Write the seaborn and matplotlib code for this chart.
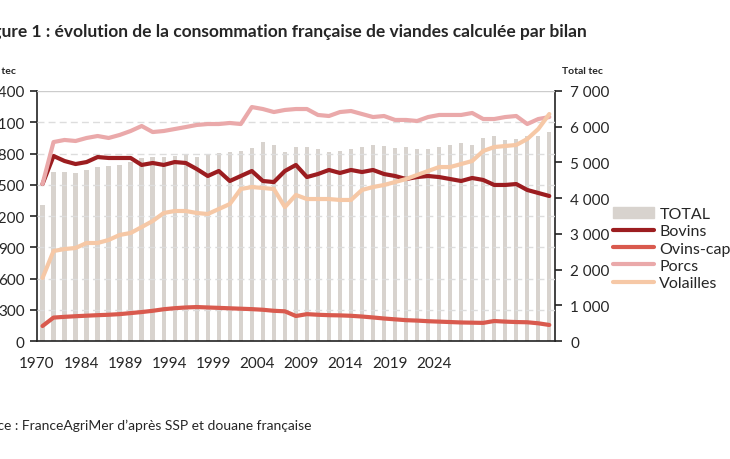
import numpy as np
import pandas as pd
import matplotlib
matplotlib.use("Agg")
import matplotlib.pyplot as plt
import seaborn as sns
from matplotlib.patches import Patch
from matplotlib.lines import Line2D

# Years shown on the chart: 1970, then 1980-2025
years = [1970] + list(range(1980, 2026))
tick_labels = ["1970", "1984", "1989", "1994", "1999", "2004", "2009",
               "2014", "2019", "2024"]
tick_labels = ["1970", "1984", "1989", "1994", "1999", "2004", "2009",
               "2014", "2019", "2024"]

total = [3810, 4730, 4730, 4700, 4800, 4860, 4900, 4930, 5010, 5120,
         5150, 5150, 5180, 5210, 5150, 5240, 5260, 5290, 5320, 5400,
         5570, 5490, 5290, 5430, 5430, 5380, 5290, 5320, 5380, 5430,
         5490, 5460, 5400, 5430, 5380, 5380, 5430, 5490, 5540, 5490,
         5680, 5740, 5640, 5660, 5740, 5740, 5850]
bovins = [1507, 1776, 1728, 1699, 1718, 1766, 1757, 1757, 1757, 1690,
          1709, 1690, 1718, 1709, 1651, 1584, 1632, 1536, 1584, 1632,
          1536, 1526, 1632, 1690, 1574, 1603, 1642, 1613, 1642, 1622,
          1642, 1603, 1584, 1555, 1574, 1584, 1574, 1555, 1536, 1565,
          1546, 1498, 1498, 1507, 1450, 1421, 1392]
ovins = [144, 225, 232, 238, 243, 248, 252, 258, 268, 278,
         290, 305, 315, 322, 326, 322, 318, 314, 310, 306,
         300, 290, 285, 240, 258, 252, 248, 246, 242, 235,
         226, 216, 208, 200, 196, 190, 186, 182, 178, 176,
         174, 192, 186, 182, 180, 170, 154]
porcs = [1507, 1910, 1930, 1920, 1949, 1968, 1949, 1978, 2016, 2064,
         2006, 2016, 2035, 2054, 2074, 2083, 2083, 2093, 2083, 2246,
         2227, 2198, 2218, 2227, 2227, 2170, 2160, 2198, 2208, 2179,
         2150, 2160, 2122, 2122, 2112, 2150, 2170, 2170, 2170, 2189,
         2131, 2131, 2150, 2160, 2083, 2131, 2150]
volailles = [605, 864, 883, 893, 941, 941, 970, 1018, 1037, 1094,
             1152, 1229, 1248, 1248, 1229, 1219, 1267, 1315, 1459, 1478,
             1469, 1459, 1286, 1402, 1363, 1363, 1363, 1354, 1354, 1450,
             1478, 1498, 1526, 1555, 1594, 1632, 1670, 1670, 1699, 1728,
             1824, 1862, 1872, 1882, 1939, 2035, 2179]

series = {"Bovins": (bovins, "#9c1d20"),
          "Ovins-caprins": (ovins, "#d95a4e"),
          "Porcs": (porcs, "#eaa9aa"),
          "Volailles": (volailles, "#f6c8a6")}

sns.set_style("white")
plt.rcParams["font.family"] = ["Lato", "DejaVu Sans"]

fig = plt.figure(figsize=(7.3, 4.6), dpi=100)
ax = fig.add_axes([0.0507, 0.2565, 0.7093, 0.5435])
ax2 = ax.twinx()

idx = np.arange(len(years))
df_tot = pd.DataFrame({"k": idx, "total": total})
sns.barplot(data=df_tot, x="k", y="total", ax=ax2, color="#d8d3ce",
            width=0.4, saturation=1, linewidth=0)

for name, (vals, col) in series.items():
    sns.lineplot(x=idx, y=vals, ax=ax, color=col, linewidth=3, label=name)

ax.set_zorder(ax2.get_zorder() + 1)
ax.patch.set_visible(False)

ax.set_xlim(-0.5, len(years) - 0.5)
ax2.set_xlim(-0.5, len(years) - 0.5)
ax.set_ylim(0, 2400)
ax2.set_ylim(0, 7000)
ax.set_yticks(np.arange(0, 2401, 300))
ax.set_yticklabels([f"{v:,}".replace(",", " ") for v in range(0, 2401, 300)])
ax2.set_yticks(np.arange(0, 7001, 1000))
ax2.set_yticklabels([f"{v:,}".replace(",", " ") for v in range(0, 7001, 1000)])
ax.set_xticks(np.arange(0, 4 * len(tick_labels), 4) - 0.5)
ax.set_xticklabels(tick_labels)
ax2.set_xlabel("")
ax2.set_ylabel("")

for v in range(300, 2400, 300):
    ax.axhline(v, color="#dddddd", linestyle=(0, (5, 3)), linewidth=1, zorder=0)
ax.axhline(2400, color="#cccccc", linewidth=1)

for a in (ax, ax2):
    a.tick_params(axis="both", labelsize=11, color="#222222", length=5,
                  width=1.2, direction="out")
    for s in ("top",):
        a.spines[s].set_visible(False)
ax.spines["right"].set_visible(False)
ax2.spines["left"].set_color("#222222")
ax2.spines["right"].set_color("#222222")
ax2.spines["bottom"].set_color("#222222")
ax2.spines["left"].set_linewidth(1.2)
ax2.spines["right"].set_linewidth(1.2)
ax2.spines["bottom"].set_linewidth(1.2)
ax.spines["left"].set_visible(False)
ax.spines["bottom"].set_visible(False)
ax.tick_params(axis="y", pad=4)
ax2.tick_params(axis="y", pad=6)
ax.tick_params(axis="x", pad=6)

handles = [Patch(color="#d8d3ce", label="TOTAL")] + [
    Line2D([], [], color=c, linewidth=3, label=n) for n, (v, c) in series.items()]
ax.legend(handles=handles, loc="center left", bbox_to_anchor=(1.1, 0.37),
          frameon=False, fontsize=11.5, handlelength=2.6, handletextpad=0.3,
          labelspacing=0.2, borderaxespad=0)

fig.text(-0.03, 0.93, "Figure 1 : évolution de la consommation française de viandes calculée par bilan",
         fontsize=12.5, fontweight="bold", ha="left", va="center")
fig.text(0.022, 0.845, "Détail tec", fontsize=7.5, fontweight="bold", ha="right", va="center")
fig.text(0.77, 0.845, "Total tec", fontsize=7.5, fontweight="bold", ha="left", va="center")
fig.text(-0.042, 0.075, "Source : FranceAgriMer d’après SSP et douane française",
         fontsize=10, ha="left", va="center")

fig.savefig("out.png", dpi=100)
